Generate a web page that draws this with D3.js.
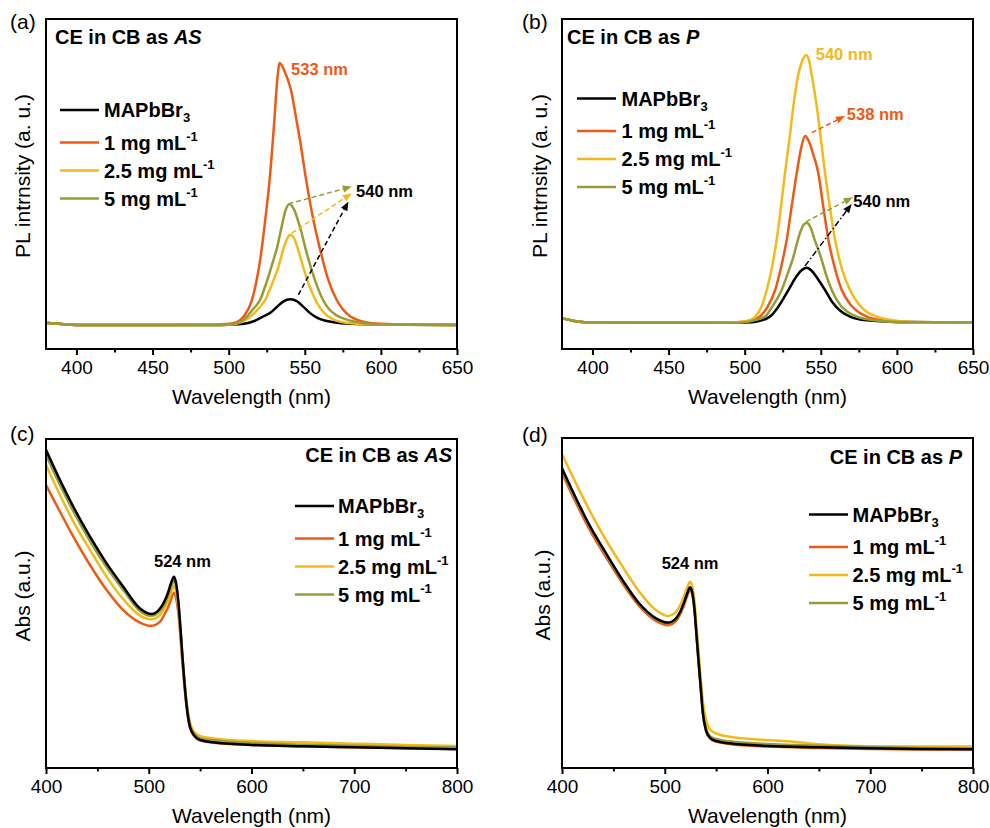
<!DOCTYPE html>
<html>
<head>
<meta charset="utf-8">
<script src="https://cdn.jsdelivr.net/npm/d3@7"></script>
<style>
  html, body { margin: 0; padding: 0; background: #fff; }
  svg text { font-family: "Liberation Sans", Arial, Helvetica, sans-serif; fill: #000; }
</style>
</head>
<body>
<div id="container"></div>
<script>
// legend entries (main text + script part)
const legendMain = ["MAPbBr", "1 mg mL", "2.5 mg mL", "5 mg mL"];
const legendScript = ["3", "-1", "-1", "-1"];
const legendKind = ["sub", "sup", "sup", "sup"];
const colors = ["#000000", "#EE5A14", "#F4B91A", "#979C35"];

// x ticks
const plTicks = [400, 450, 500, 550, 600, 650];
const plMinor = [425, 475, 525, 575, 625];
const absTicks = [400, 500, 600, 700, 800];
const absMinor = [450, 550, 650, 750];

// (a) PL, CE in CB as AS  [wavelength, intensity]
const plA_black = [[380,0.008],[390,0.003],[400,0],[450,0],[490,0],[500,0.001],[510,0.004],[516,0.013],[522,0.03],[527,0.045],[532,0.07],[536,0.09],[540.5,0.098],[545,0.09],[549,0.07],[553.5,0.045],[558,0.028],[563,0.017],[569,0.01],[580,0.004],[600,0.001],[650,0]];
const plA_orange = [[380,0.008],[390,0.003],[400,0],[450,0],[490,0.001],[500,0.004],[505,0.01],[510,0.033],[515,0.09],[518,0.16],[521,0.26],[524,0.40],[527,0.56],[530,0.78],[532,0.94],[533.5,1.0],[535,0.99],[537,0.965],[539,0.935],[541,0.895],[544,0.80],[547,0.70],[551,0.55],[555,0.42],[560,0.29],[565,0.18],[571,0.095],[575,0.06],[580,0.032],[585,0.018],[590,0.01],[600,0.004],[620,0.001],[650,0]];
const plA_yellow = [[380,0.008],[390,0.003],[400,0],[450,0],[490,0],[500,0.001],[505,0.004],[510,0.015],[515,0.035],[520,0.065],[524,0.095],[528,0.15],[532.6,0.22],[536,0.29],[538.5,0.33],[540.5,0.344],[543,0.33],[546,0.28],[549,0.22],[553,0.15],[557,0.095],[562,0.05],[569,0.02],[580,0.006],[600,0.001],[650,0]];
const plA_green = [[380,0.008],[390,0.003],[400,0],[450,0],[490,0],[500,0.002],[505,0.006],[512,0.032],[516,0.06],[520.6,0.095],[525,0.165],[529,0.24],[532,0.30],[535,0.38],[537.5,0.44],[540,0.462],[543,0.44],[546,0.39],[548,0.35],[551,0.28],[554,0.22],[558,0.15],[562,0.095],[566,0.06],[570,0.04],[577.6,0.02],[590,0.006],[600,0.002],[650,0]];

// (b) PL, CE in CB as P
const plB_black = [[380,0.018],[390,0.006],[400,0.002],[450,0.001],[490,0.001],[505,0.003],[510,0.008],[516.7,0.024],[522,0.06],[528.7,0.123],[533,0.165],[537,0.195],[540.8,0.206],[544,0.195],[548,0.165],[552.8,0.123],[558,0.075],[563,0.045],[569.2,0.024],[580,0.01],[600,0.004],[650,0.002]];
const plB_orange = [[380,0.018],[390,0.006],[400,0.002],[450,0.001],[490,0.002],[500,0.005],[505,0.012],[510,0.024],[515,0.06],[520,0.123],[524,0.21],[527.6,0.31],[531,0.44],[534.2,0.559],[537,0.65],[539.7,0.698],[542,0.68],[545,0.63],[548.4,0.559],[551.5,0.44],[555,0.31],[559,0.21],[563.8,0.123],[570,0.065],[575,0.04],[580.2,0.024],[590,0.01],[600,0.004],[650,0.002]];
const plB_yellow = [[380,0.018],[390,0.006],[400,0.002],[450,0.001],[490,0.002],[500,0.006],[504,0.012],[507,0.024],[511,0.06],[514.5,0.123],[518,0.21],[521,0.31],[524,0.44],[526.5,0.56],[529.5,0.69],[532,0.81],[535,0.92],[538,0.98],[540.3,1.0],[542,0.985],[544.5,0.91],[547.3,0.81],[550,0.69],[552.8,0.56],[556,0.43],[559.4,0.31],[564,0.2],[569.2,0.123],[575,0.07],[580,0.042],[586.8,0.024],[595,0.012],[605,0.005],[620,0.002],[650,0.002]];
const plB_green = [[380,0.018],[390,0.006],[400,0.002],[450,0.001],[490,0.001],[500,0.003],[505,0.008],[513.4,0.024],[518,0.06],[524.3,0.123],[528,0.18],[532,0.247],[536,0.33],[538.5,0.365],[540.8,0.374],[543,0.36],[546,0.31],[550,0.247],[553.5,0.18],[557.2,0.123],[563,0.065],[568,0.04],[573.6,0.024],[585,0.01],[600,0.004],[650,0.002]];

// (c) Abs, CE in CB as AS
const absC_black = [[400,0.967],[413.6,0.875],[426.6,0.794],[442.8,0.703],[459,0.622],[475.2,0.551],[491.5,0.485],[502.9,0.468],[511,0.485],[515,0.505],[519,0.535],[522,0.565],[524.5,0.581],[527,0.555],[529,0.50],[531,0.42],[533,0.33],[535,0.25],[537,0.186],[540,0.126],[544,0.1],[550,0.085],[563,0.078],[600,0.07],[650,0.066],[700,0.063],[750,0.06],[800,0.057]];
const absC_orange = [[400,0.86],[413.6,0.779],[426.6,0.703],[442.8,0.617],[459,0.541],[475.2,0.48],[491.5,0.442],[502,0.432],[511,0.445],[515,0.465],[519,0.49],[522,0.515],[524.5,0.533],[527,0.51],[529,0.465],[531,0.39],[533,0.31],[535,0.24],[537,0.18],[540,0.124],[544,0.098],[550,0.084],[563,0.077],[600,0.07],[650,0.066],[700,0.063],[750,0.06],[800,0.058]];
const absC_yellow = [[400,0.921],[413.6,0.83],[426.6,0.749],[442.8,0.663],[459,0.581],[475.2,0.513],[491.5,0.463],[502,0.452],[511,0.465],[515,0.485],[519,0.51],[522,0.535],[524.5,0.553],[527,0.53],[529,0.48],[531,0.405],[533,0.325],[535,0.255],[537,0.195],[540,0.14],[544,0.11],[550,0.097],[563,0.09],[600,0.082],[650,0.078],[700,0.074],[750,0.07],[800,0.067]];
const absC_green = [[400,0.951],[413.6,0.86],[426.6,0.78],[442.8,0.69],[459,0.61],[475.2,0.541],[491.5,0.477],[502,0.462],[511,0.478],[515,0.496],[519,0.525],[522,0.552],[524.5,0.569],[527,0.545],[529,0.493],[531,0.415],[533,0.33],[535,0.255],[537,0.192],[540,0.133],[544,0.104],[550,0.09],[563,0.084],[600,0.076],[650,0.071],[700,0.068],[750,0.064],[800,0.062]];

// (d) Abs, CE in CB as P
const absD_black = [[400,0.911],[413.6,0.82],[426.6,0.739],[442.8,0.653],[459,0.571],[475.2,0.5],[491.5,0.455],[502.9,0.442],[511,0.455],[515,0.475],[519,0.505],[522,0.532],[524.6,0.549],[527,0.53],[529,0.48],[531,0.40],[533,0.32],[535,0.245],[537,0.17],[540,0.116],[544,0.092],[550,0.082],[563,0.075],[600,0.067],[650,0.063],[700,0.06],[750,0.058],[800,0.057]];
const absD_orange = [[400,0.896],[413.6,0.806],[426.6,0.726],[442.8,0.641],[459,0.561],[475.2,0.492],[491.5,0.447],[502.9,0.434],[511,0.447],[515,0.467],[519,0.497],[522,0.524],[524.6,0.542],[527,0.524],[529,0.476],[531,0.398],[533,0.318],[535,0.243],[537,0.168],[540,0.114],[544,0.09],[550,0.08],[563,0.073],[600,0.065],[650,0.061],[700,0.058],[750,0.056],[800,0.056]];
const absD_yellow = [[400,0.954],[413.6,0.865],[426.6,0.784],[442.8,0.693],[459,0.612],[475.2,0.536],[491.5,0.48],[502.9,0.462],[511,0.475],[515,0.495],[519,0.525],[522,0.55],[524.6,0.566],[527,0.55],[529,0.505],[531,0.43],[533,0.35],[535,0.275],[537,0.205],[540,0.15],[544,0.118],[550,0.105],[563,0.095],[600,0.085],[625,0.08],[650,0.072],[700,0.066],[750,0.065],[800,0.065]];
const absD_green = [[400,0.905],[413.6,0.815],[426.6,0.735],[442.8,0.649],[459,0.568],[475.2,0.498],[491.5,0.452],[502.9,0.44],[511,0.453],[515,0.473],[519,0.503],[522,0.53],[524.6,0.547],[527,0.53],[529,0.482],[531,0.404],[533,0.325],[535,0.25],[537,0.176],[540,0.122],[544,0.097],[550,0.088],[563,0.081],[600,0.073],[650,0.068],[700,0.064],[750,0.061],[800,0.06]];

// annotations [text, x, y, colour index]  (data coords)
const notesA = [["533 nm", 541, 0.954, 1], ["540 nm", 583.7, 0.489, 0]];
const notesB = [["540 nm", 546.7, 0.981, 2], ["538 nm", 567.1, 0.757, 1], ["540 nm", 571.4, 0.433, 0]];
const notesC = [["524 nm", 505.1, 0.611, 0]];
const notesD = [["524 nm", 497, 0.605, 0]];

// arrows [x1, y1, x2, y2, colour index, dash-dot?]  (data coords)
const arrowsA = [[539.2,0.462,580.9,0.528,3,false],[541.4,0.35,580.9,0.503,2,false],[545.8,0.115,578.7,0.471,0,false]];
const arrowsB = [[544.1,0.71,565.9,0.772,1,false],[540.3,0.378,571,0.469,3,false],[539.7,0.213,570.3,0.444,0,true]];

const panels = [
  { tag: "(a)", tagPos: [10, 29], x0: 46, x1: 457, y0: 19, y1: 349, xDomain: [380, 650], yDomain: [-0.092, 1.168],
    ticks: plTicks, minor: plMinor, series: [plA_black, plA_orange, plA_yellow, plA_green], order: [0, 1, 2, 3],
    ylabel: "PL intrnsity (a. u.)", ylabX: -16, title: ["CE in CB as ", "AS"], titlePos: [55, 44, "start"],
    legend: [60, 110, 104], notes: notesA, arrows: arrowsA },
  { tag: "(b)", tagPos: [522, 29], x0: 562, x1: 973, y0: 19, y1: 349, xDomain: [380, 650], yDomain: [-0.097, 1.134],
    ticks: plTicks, minor: plMinor, series: [plB_black, plB_orange, plB_yellow, plB_green], order: [0, 1, 2, 3],
    ylabel: "PL intrnsity (a. u.)", ylabX: -15.5, title: ["CE in CB as ", "P"], titlePos: [567, 43.5, "start"],
    legend: [577, 98.5, 621.5], notes: notesB, arrows: arrowsB },
  { tag: "(c)", tagPos: [10, 440.5], x0: 46, x1: 457, y0: 439, y1: 768, xDomain: [400, 800], yDomain: [0, 1],
    ticks: absTicks, minor: absMinor, series: [absC_black, absC_orange, absC_yellow, absC_green], order: [1, 2, 3, 0],
    ylabel: "Abs (a.u.)", ylabX: -16, title: ["CE in CB as ", "AS"], titlePos: [452, 462, "end"],
    legend: [295, 506, 338], notes: notesC, arrows: [] },
  { tag: "(d)", tagPos: [522, 442], x0: 562, x1: 973, y0: 438, y1: 768, xDomain: [400, 800], yDomain: [0, 1.003],
    ticks: absTicks, minor: absMinor, series: [absD_black, absD_orange, absD_yellow, absD_green], order: [1, 2, 3, 0],
    ylabel: "Abs (a.u.)", ylabX: -12.5, title: ["CE in CB as ", "P"], titlePos: [962, 464, "end"],
    legend: [809, 514.5, 852.5], notes: notesD, arrows: [] },
];

const legendRows = [0, 32.5, 60.5, 88.5];

const svg = d3.select("#container").append("svg")
  .attr("width", 990).attr("height", 828)
  .attr("viewBox", [0, 0, 990, 828]);

function arrow(g, sx, sy, ex, ey, color, dashdot) {
  const dx = ex - sx, dy = ey - sy, L = Math.hypot(dx, dy);
  const ux = dx / L, uy = dy / L;
  const hl = 9, hw = 3.6;
  const bx = ex - ux * hl, by = ey - uy * hl;
  g.append("line")
    .attr("x1", sx).attr("y1", sy).attr("x2", bx).attr("y2", by)
    .attr("stroke", color).attr("stroke-width", 1.5)
    .attr("stroke-dasharray", dashdot ? "6,2.5,1.5,2.5" : "5,3");
  g.append("path")
    .attr("d", `M${ex},${ey}L${bx - uy * hw},${by + ux * hw}L${bx + uy * hw},${by - ux * hw}Z`)
    .attr("fill", color);
}

panels.forEach((p, i) => {
  const x = d3.scaleLinear().domain(p.xDomain).range([p.x0, p.x1]);
  const y = d3.scaleLinear().domain(p.yDomain).range([p.y1, p.y0]);
  const g = svg.append("g");

  const clipId = "clip" + i;
  svg.append("clipPath").attr("id", clipId).append("rect")
    .attr("x", p.x0).attr("y", p.y0).attr("width", p.x1 - p.x0).attr("height", p.y1 - p.y0);

  const line = d3.line()
    .x((d) => x(d[0]))
    .y((d) => y(d[1]))
    .curve(d3.curveMonotoneX);

  const curves = g.append("g").attr("clip-path", `url(#${clipId})`);
  p.order.forEach((k) => {
    curves.append("path")
      .attr("d", line(p.series[k]))
      .attr("fill", "none")
      .attr("stroke", colors[k])
      .attr("stroke-width", 2.5)
      .attr("stroke-linejoin", "round");
  });

  // frame
  g.append("rect")
    .attr("x", p.x0).attr("y", p.y0)
    .attr("width", p.x1 - p.x0).attr("height", p.y1 - p.y0)
    .attr("fill", "none").attr("stroke", "#000").attr("stroke-width", 2);

  // bottom axis
  const ax = g.append("g").attr("transform", `translate(0,${p.y1})`)
    .call(d3.axisBottom(x).tickValues(p.ticks).tickSize(6).tickPadding(6));
  ax.select(".domain").remove();
  ax.selectAll(".tick line").attr("stroke-width", 2);
  ax.selectAll(".tick text")
    .attr("font-size", 19).attr("font-family", "Liberation Sans, Arial, sans-serif")
    .attr("fill", "#000");
  const axm = g.append("g").attr("transform", `translate(0,${p.y1})`)
    .call(d3.axisBottom(x).tickValues(p.minor).tickSize(3.5).tickFormat(""));
  axm.select(".domain").remove();
  axm.selectAll(".tick line").attr("stroke-width", 2);

  // axis titles
  g.append("text")
    .attr("x", (p.x0 + p.x1) / 2).attr("y", p.y1 + 54.5)
    .attr("text-anchor", "middle").attr("font-size", 21)
    .text("Wavelength (nm)");
  g.append("text")
    .attr("transform", `translate(${p.x0 + p.ylabX},${p.y0 + 157}) rotate(-90)`)
    .attr("text-anchor", "middle").attr("font-size", 21)
    .text(p.ylabel);

  // panel tag
  g.append("text")
    .attr("x", p.tagPos[0]).attr("y", p.tagPos[1])
    .attr("font-size", 21).text(p.tag);

  // panel title
  const t = g.append("text")
    .attr("x", p.titlePos[0]).attr("y", p.titlePos[1])
    .attr("text-anchor", p.titlePos[2])
    .attr("font-size", 20).attr("font-weight", "bold");
  t.append("tspan").text(p.title[0]);
  t.append("tspan").attr("font-style", "italic").text(p.title[1]);

  // legend
  const [lx, ly, tx] = p.legend;
  legendMain.forEach((name, k) => {
    const yy = ly + legendRows[k];
    g.append("line")
      .attr("x1", lx).attr("x2", lx + 39).attr("y1", yy).attr("y2", yy)
      .attr("stroke", colors[k]).attr("stroke-width", 2.6);
    const lt = g.append("text")
      .attr("x", tx).attr("y", yy + 7)
      .attr("font-size", 20).attr("font-weight", "bold");
    lt.append("tspan").text(name);
    lt.append("tspan")
      .attr("font-size", 13)
      .attr("dy", legendKind[k] === "sub" ? 5 : -9)
      .text(legendScript[k]);
  });

  // annotations
  p.notes.forEach(([txt, nx, ny, c]) => {
    g.append("text")
      .attr("x", x(nx)).attr("y", y(ny))
      .attr("font-size", 16.5).attr("font-weight", "bold")
      .attr("fill", colors[c]).style("fill", colors[c])
      .text(txt);
  });
  p.arrows.forEach(([ax1, ay1, ax2, ay2, c, dd]) => {
    arrow(g, x(ax1), y(ay1), x(ax2), y(ay2), colors[c], dd);
  });
});
</script>
</body>
</html>
